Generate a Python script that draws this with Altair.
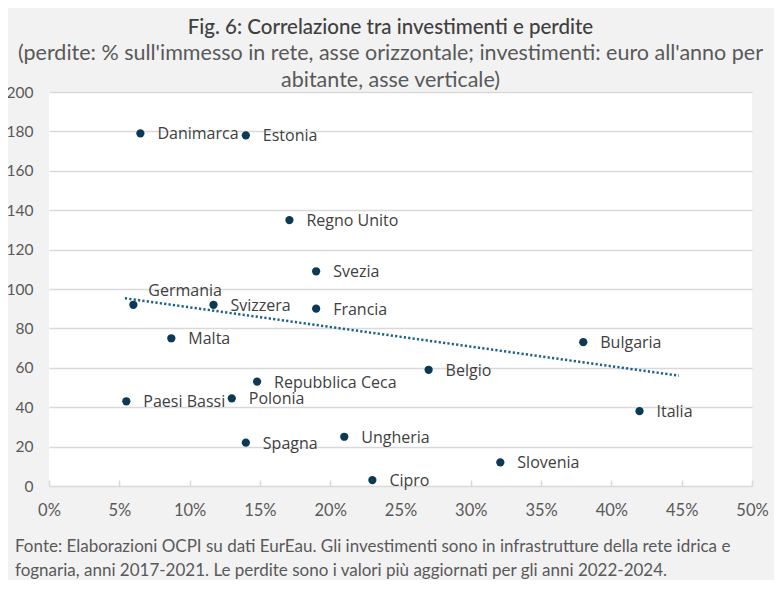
import altair as alt
import pandas as pd

countries = ["Danimarca", "Estonia", "Regno Unito", "Svezia", "Francia", "Germania",
             "Svizzera", "Malta", "Bulgaria", "Belgio", "Repubblica Ceca", "Paesi Bassi",
             "Polonia", "Italia", "Spagna", "Ungheria", "Slovenia", "Cipro"]
perdite = [0.065, 0.140, 0.171, 0.190, 0.190, 0.060, 0.117, 0.087, 0.380, 0.270,
           0.148, 0.055, 0.130, 0.420, 0.140, 0.210, 0.321, 0.230]
investimenti = [179, 178, 135, 109, 90, 92, 92, 75, 73, 59, 53, 43, 44.5, 38, 22, 25, 12, 3]

trend_x = [0.054, 0.448]
trend_y = [95.3, 56.0]

x_ticks = [0, 0.05, 0.10, 0.15, 0.20, 0.25, 0.30, 0.35, 0.40, 0.45, 0.50]
y_ticks = [0, 20, 40, 60, 80, 100, 120, 140, 160, 180, 200]

title_text = "Fig. 6: Correlazione tra investimenti e perdite"
subtitle_lines = ["(perdite: % sull'immesso in rete, asse orizzontale; investimenti: euro all'anno per",
                  "abitante, asse verticale)"]
footnote = ("Fonte: Elaborazioni OCPI su dati EurEau. Gli investimenti sono in infrastrutture della rete idrica e\n"
            "fognaria, anni 2017-2021. Le perdite sono i valori più aggiornati per gli anni 2022-2024.")

df = pd.DataFrame({"paese": countries, "perdite": perdite, "investimenti": investimenti})
trend = pd.DataFrame({"perdite": trend_x, "investimenti": trend_y})

W, H = 703, 394
FONT = "Lato"
LABEL_FONT = "Open Sans"
GRID = "#d9d9d9"

xenc = alt.X("perdite:Q", scale=alt.Scale(domain=[0, 0.5], nice=False),
             axis=alt.Axis(values=x_ticks, format=".0%", grid=False, domain=False,
                           ticks=True, tickSize=6, tickColor=GRID, tickWidth=1.5,
                           offset=-6, labelPadding=16, title=None, labelFlush=False,
                           labelOverlap=False,
                           labelFont=FONT, labelFontSize=16.5, labelColor="#595959"))
yenc = alt.Y("investimenti:Q", scale=alt.Scale(domain=[0, 200], nice=False),
             axis=alt.Axis(values=y_ticks, grid=True, gridColor=GRID, gridWidth=1.5,
                           domain=False, ticks=False, labelPadding=16, title=None,
                           labelOverlap=False, labelFlush=False,
                           labelFont=FONT, labelFontSize=15.5, labelColor="#595959"))

line = alt.Chart(trend).mark_line(color="#1c6187", strokeWidth=2.5,
                                  strokeDash=[2.2, 2.2]).encode(x=xenc, y=yenc)

points = alt.Chart(df).mark_circle(size=68, color="#0c3a56", opacity=1).encode(
    x=xenc, y=yenc)

labels = alt.Chart(df).transform_filter(alt.datum.paese != "Germania").mark_text(
    align="left", baseline="middle", dx=17, dy=1, font=LABEL_FONT, fontSize=16,
    color="#404040").encode(x=xenc, y=yenc, text="paese:N")

label_ger = alt.Chart(df).transform_filter(alt.datum.paese == "Germania").mark_text(
    align="left", baseline="middle", dx=15, dy=-14, font=LABEL_FONT, fontSize=16,
    color="#404040").encode(x=xenc, y=yenc, text="paese:N")

foot = alt.Chart(pd.DataFrame({"t": [footnote]})).mark_text(
    align="left", baseline="middle", lineBreak="\n", lineHeight=24, font=FONT,
    fontSize=17, color="#595959").encode(x=alt.value(-34), y=alt.value(455), text="t:N")

chart = alt.layer(line, points, labels, label_ger, foot).properties(
    width=W, height=H,
    background="#f2f2f2",
    padding={"left": 41, "top": 84, "right": 22, "bottom": 94},
    autosize=alt.AutoSizeParams(type="none"),
    title=alt.Title(text=title_text, subtitle=subtitle_lines, anchor="middle", dx=-10,
                    font=FONT, fontSize=20.5, fontWeight=500, color="#404040",
                    subtitleFont=FONT, subtitleFontSize=21.5, subtitleColor="#595959",
                    subtitleLineHeight=27, subtitlePadding=4, offset=-6),
).configure_view(fill="white", strokeWidth=0)

chart.save("out.html", embed_options={"renderer": "svg", "actions": False})
